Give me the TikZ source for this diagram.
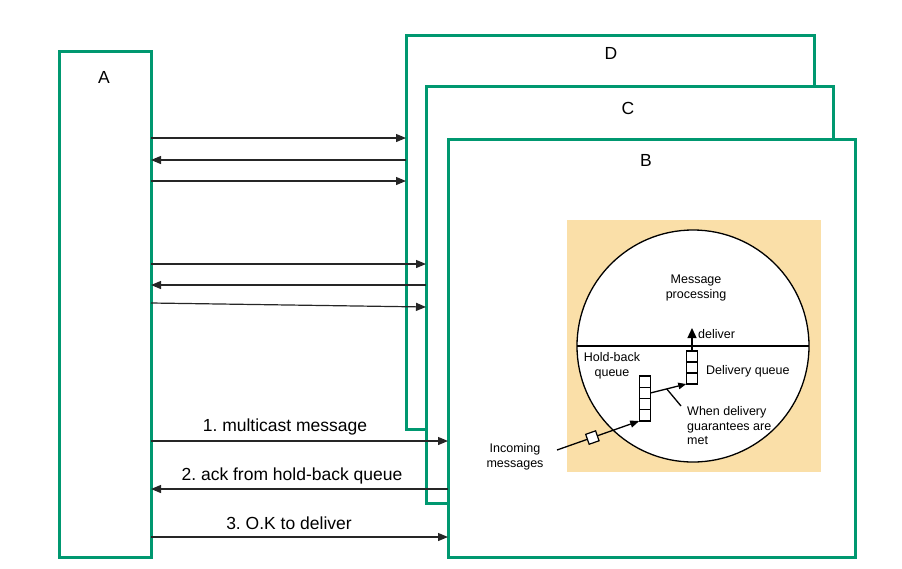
\documentclass[tikz,border=0pt]{standalone}
\usepackage{fontspec}
\setmainfont{Liberation Sans}
\usetikzlibrary{arrows.meta,calc}
\definecolor{boxgreen}{RGB}{0,152,112}
\definecolor{peach}{RGB}{250,223,168}
\frenchspacing
\begin{document}
\begin{tikzpicture}[x=1pt,y=-1pt,
  proc/.style={draw=boxgreen, line width=3pt, fill=white, rectangle, inner sep=0pt, outer sep=0pt},
  big/.style={font=\fontsize{17.5}{21}\selectfont, inner sep=0pt},
  small/.style={font=\fontsize{12.5}{14.5}\selectfont, inner sep=0pt},
  msg/.style={draw=black!85, line width=1.2pt, -{Triangle[length=10pt,width=8pt]}},
  qcell/.style={draw=black, line width=1.2pt, fill=white, minimum width=11.5pt, minimum height=11.25pt, inner sep=0pt, outer sep=0pt},
  thinline/.style={draw=black, line width=1.3pt},
  smalltip/.style={-{Triangle[length=9pt,width=7pt]}}]
\useasboundingbox (0,0) rectangle (902,568);

% processes
\node[proc, minimum width=92pt, minimum height=506pt] (A) at (105,304) {};
\node[big] (Alab) at (104,77) {A};
\node[proc, minimum width=408pt, minimum height=394pt] (D) at (610,232) {};
\node[big] (Dlab) at (611,53) {D};
\node[proc, minimum width=407pt, minimum height=417pt] (C) at (629.5,294.5) {};
\node[big] (Clab) at (628,108) {C};
\node[proc, minimum width=407pt, minimum height=418pt] (B) at (651.5,348) {};
\node[big] (Blab) at (646,160) {B};

% inner figure
\node[fill=peach, minimum width=254pt, minimum height=252pt, inner sep=0pt] (bg) at (694,346) {};
\node[circle, draw, line width=1.3pt, fill=white, minimum size=232pt, inner sep=0pt, outer sep=0pt] (circ) at (693,346) {};
\draw[thinline] (circ.west) -- (circ.east);

\foreach \i/\y in {1/381.6,2/392.9,3/404.1,4/415.4}
  \node[qcell] (hb\i) at (645,\y) {};
\foreach \i/\y in {1/356.5,2/367.5,3/378.5}
  \node[qcell, minimum height=11pt] (dq\i) at (692,\y) {};

\draw[thinline, -{Triangle[length=8pt,width=6.5pt]}] (hb2.east) -- coordinate[pos=0.45] (mid) (dq3.south west);
\coordinate (ptr) at (681,406);
\draw[thinline] (mid) -- (ptr);

\coordinate (deltip) at (692,328);
\draw[thinline, -{Triangle[length=10pt,width=9pt]}] (dq1.north) -- (deltip);

\coordinate (inc) at (557,450);
\draw[thinline, smalltip] (inc) -- node[pos=0.43, sloped, draw, line width=1.2pt, fill=white, minimum size=10.5pt, inner sep=0pt] (sq) {} (hb4.south west);

\node[small, align=center] (mp) at (696,288) {Message\\processing};
\node[small, anchor=west] (dl) at (698,334) {deliver};
\node[small, align=center] (hbl) at (612,366) {Hold-back\\queue};
\node[small, anchor=west] (dql) at (706,371) {Delivery queue};
\node[small, anchor=west, align=left] (wdg) at (687,426) {When delivery\\guarantees are\\met};
\node[small, align=center] (incl) at (515,457) {Incoming\\messages};

% messages
\draw[msg] (A.east |- 0,138) -- (D.west |- 0,138);
\draw[msg] (D.west |- 0,160) -- (A.east |- 0,160);
\draw[msg] (A.east |- 0,181) -- (D.west |- 0,181);
\draw[msg] (A.east |- 0,264) -- (C.west |- 0,264);
\draw[msg] (C.west |- 0,285) -- (A.east |- 0,285);
\draw[msg] (A.east |- 0,303) -- (C.west |- 0,307);
\draw[msg] (A.east |- 0,441) -- (B.west |- 0,441);
\draw[msg] (B.west |- 0,489) -- (A.east |- 0,489);
\draw[msg] (A.east |- 0,537) -- (B.west |- 0,537);

\node[big, anchor=base] (l1) at (285,431) {1. multicast message};
\node[big, anchor=base] (l2) at (292,480) {2. ack from hold-back queue};
\node[big, anchor=base] (l3) at (289,529) {3. O.K to deliver};
\end{tikzpicture}
\end{document}
